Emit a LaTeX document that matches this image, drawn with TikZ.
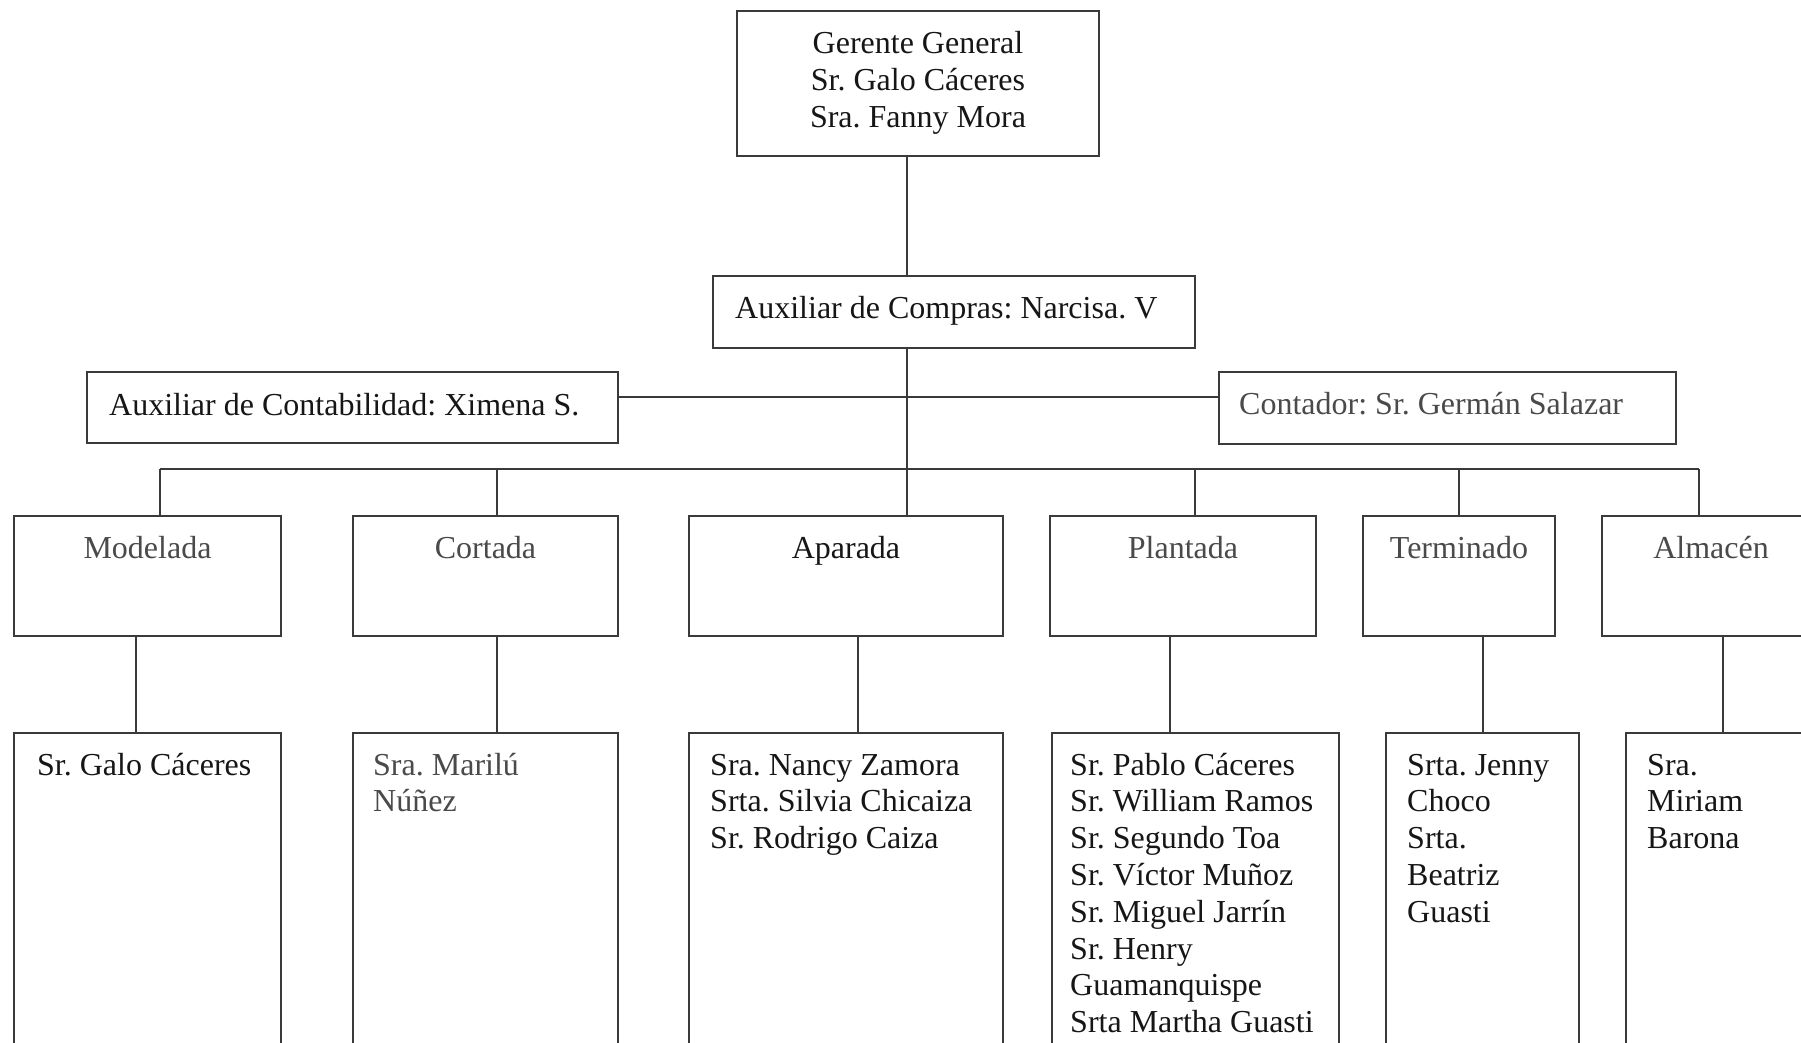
\documentclass[tikz,border=0pt]{standalone}
\usepackage{fontspec}
\setmainfont{Liberation Serif}
\definecolor{linec}{HTML}{3A3A3A}
\definecolor{darktxt}{HTML}{161616}
\definecolor{greytxt}{HTML}{4A4A4A}
\begin{document}
\frenchspacing
\begin{tikzpicture}[x=1pt,y=-1pt,
  box/.style={draw=linec, line width=2.2pt, inner sep=0pt, fill=none},
  conn/.style={draw=linec, line width=2.2pt},
  lbl/.style={inner sep=0pt, align=left, text=darktxt, font=\fontsize{32}{36.8}\selectfont},
  glbl/.style={lbl, text=greytxt}]
\useasboundingbox (0,0) rectangle (1801,1042);
\clip (0,0) rectangle (1801,1042);
\fill[white] (0,0) rectangle (1801,1042);

% level 0 / 1 / 2
\node[box, minimum width=362pt, minimum height=145pt] (top) at (918,83.5) {};
\node[box, minimum width=482pt, minimum height=72pt] (compras) at (954,312) {};
\node[box, minimum width=531pt, minimum height=71pt] (auxc) at (352.5,407.5) {};
\node[box, minimum width=457pt, minimum height=72pt] (cont) at (1447.5,408) {};

% level 3
\node[box, minimum width=267pt, minimum height=120pt] (mod) at (147.5,576) {};
\node[box, minimum width=265pt, minimum height=120pt] (cor) at (485.5,576) {};
\node[box, minimum width=314pt, minimum height=120pt] (apa) at (846,576) {};
\node[box, minimum width=266pt, minimum height=120pt] (pla) at (1183,576) {};
\node[box, minimum width=192pt, minimum height=120pt] (ter) at (1459,576) {};
\node[box, minimum width=220pt, minimum height=120pt] (alm) at (1712,576) {};

% level 4
\node[box, minimum width=267pt, minimum height=327pt] (mod4) at (147.5,896.5) {};
\node[box, minimum width=265pt, minimum height=327pt] (cor4) at (485.5,896.5) {};
\node[box, minimum width=314pt, minimum height=327pt] (apa4) at (846,896.5) {};
\node[box, minimum width=287pt, minimum height=327pt] (pla4) at (1195.5,896.5) {};
\node[box, minimum width=193pt, minimum height=327pt] (ter4) at (1482.5,896.5) {};
\node[box, minimum width=204pt, minimum height=327pt] (alm4) at (1728,896.5) {};

% connector reference coordinates
\coordinate (trunk) at (907,0);
\coordinate (sidey) at (0,397);

% connectors
\draw[conn] (top.south -| trunk) -- (compras.north -| trunk);
\draw[conn] (compras.south -| trunk) -- (apa.north -| trunk);
\draw[conn] (auxc.east |- sidey) -- (cont.west |- sidey);
\coordinate (bl) at (160,469);
\coordinate (br) at (1699,469);
\draw[conn] (bl) -- (br);
\draw[conn] (bl) -- (mod.north -| bl);
\draw[conn] (497,469) coordinate (bc) -- (cor.north -| bc);
\draw[conn] (1195,469) coordinate (bp) -- (pla.north -| bp);
\draw[conn] (1459,469) coordinate (bt) -- (ter.north -| bt);
\draw[conn] (br) -- (alm.north -| br);

\coordinate (d1) at (136,0);
\coordinate (d2) at (497,0);
\coordinate (d3) at (858,0);
\coordinate (d4) at (1170,0);
\coordinate (d5) at (1483,0);
\coordinate (d6) at (1723,0);
\draw[conn] (mod.south -| d1) -- (mod4.north -| d1);
\draw[conn] (cor.south -| d2) -- (cor4.north -| d2);
\draw[conn] (apa.south -| d3) -- (apa4.north -| d3);
\draw[conn] (pla.south -| d4) -- (pla4.north -| d4);
\draw[conn] (ter.south -| d5) -- (ter4.north -| d5);
\draw[conn] (alm.south -| d6) -- (alm4.north -| d6);

% texts
\node[lbl, align=center, anchor=north] (ttop) at (918,27.7) {\strut Gerente General\\Sr. Galo Cáceres\\Sra. Fanny Mora};
\node[lbl, anchor=north west] (tcompras) at (735,292.2) {\strut Auxiliar de Compras: Narcisa. V};
\node[lbl, anchor=north west] (tauxc) at (109,389.2) {\strut Auxiliar de Contabilidad: Ximena S.};
\node[glbl, anchor=north west] (tcont) at (1239,388.2) {\strut Contador: Sr. Germán Salazar};

\node[glbl, anchor=north] (tmod) at (147.5,532.2) {\strut Modelada};
\node[glbl, anchor=north] (tcor) at (485.5,532.2) {\strut Cortada};
\node[lbl, anchor=north] (tapa) at (846,532.2) {\strut Aparada};
\node[glbl, anchor=north] (tpla) at (1183,532.2) {\strut Plantada};
\node[glbl, anchor=north] (tter) at (1459,532.2) {\strut Terminado};
\node[glbl, anchor=north] (talm) at (1711,532.2) {\strut Almacén};

\node[lbl, anchor=north west] (tmod4) at (37,749.2) {\strut Sr. Galo Cáceres};
\node[glbl, anchor=north west] (tcor4) at (373,749.2) {\strut Sra. Marilú\\Núñez};
\node[lbl, anchor=north west] (tapa4) at (710,749.2) {\strut Sra. Nancy Zamora\\Srta. Silvia Chicaiza\\Sr. Rodrigo Caiza};
\node[lbl, anchor=north west] (tpla4) at (1070,749.2) {\strut Sr. Pablo Cáceres\\Sr. William Ramos\\Sr. Segundo Toa\\Sr. Víctor Muñoz\\Sr. Miguel Jarrín\\Sr. Henry\\Guamanquispe\\Srta Martha Guasti};
\node[lbl, anchor=north west] (tter4) at (1407,749.2) {\strut Srta. Jenny\\Choco\\Srta.\\Beatriz\\Guasti};
\node[lbl, anchor=north west] (talm4) at (1647,749.2) {\strut Sra.\\Miriam\\Barona};
\end{tikzpicture}
\end{document}
